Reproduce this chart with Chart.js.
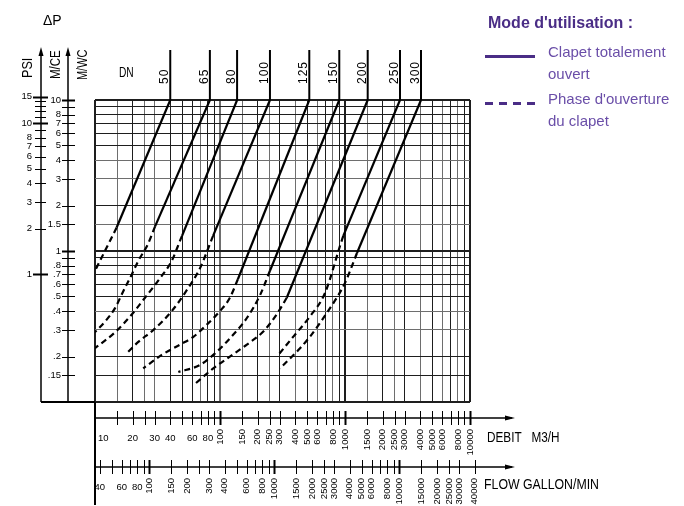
<!DOCTYPE html>
<html>
<head>
<meta charset="utf-8">
<script src="https://cdn.jsdelivr.net/npm/chart.js@4.4.0/dist/chart.umd.min.js"></script>
<style>
  html, body { margin: 0; padding: 0; background: #fff; overflow: hidden; }
  #wrap { position: relative; width: 684px; height: 506px; }
  #chart { position: absolute; left: 0; top: 0; }
  .lg { position: absolute; font-family: 'Liberation Sans', Arial, sans-serif; color: #6a4ea8; white-space: nowrap; }
  #lgTitle { left: 488px; top: 13px; font-size: 16px; font-weight: bold; color: #4a2d86; line-height: 20px; }
  #lgOpen { left: 548px; top: 41px; font-size: 15px; line-height: 22px; }
  #lgPhase { left: 548px; top: 88px; font-size: 15px; line-height: 22px; }
  .sample { position: absolute; left: 485px; width: 50px; height: 2.5px; }
  #smpOpen { top: 55px; background: #4a2d86; }
  #smpPhase { top: 102px; background: repeating-linear-gradient(to right, #4a2d86 0 8px, transparent 8px 14px); }
</style>
</head>
<body>
<div id="wrap">
  <canvas id="chart" width="684" height="506"></canvas>
  <div class="lg" id="lgTitle">Mode d'utilisation :</div>
  <div class="sample" id="smpOpen"></div>
  <div class="lg" id="lgOpen">Clapet totalement<br>ouvert</div>
  <div class="sample" id="smpPhase"></div>
  <div class="lg" id="lgPhase">Phase d'ouverture<br>du clapet</div>
</div>
<script>
// unit conversions for the secondary scales
const M_PER_PSI = 0.70307;     // 1 psi = 0.703 m CE
const GPM_PER_M3H = 3.6662;    // imperial gallon/min for 1 m3/h

const dnSizes = ['50', '65', '80', '100', '125', '150', '200', '250', '300'];

// Clapet totalement ouvert : [debit m3/h, perte de charge m CE]
const openDN50  = [[40, 10], [14.9, 1.43]];
const openDN65  = [[83, 10], [30.2, 1.45]];
const openDN80  = [[137, 10], [49.7, 1.26]];
const openDN100 = [[251, 10], [88, 1.26]];
const openDN125 = [[518, 10], [139, 0.65]];
const openDN150 = [[900, 10], [251, 0.74]];
const openDN200 = [[1519, 10], [342, 0.49]];
const openDN250 = [[2754, 10], [969, 1.26]];
const openDN300 = [[4055, 10], [1247, 0.97]];

// Phase d'ouverture du clapet
const phaseDN50  = [[14.9, 1.43], [13.2, 1.17], [10, 0.74]];
const phaseDN65  = [[30.2, 1.45], [26.5, 1.11], [22.2, 0.86], [19.7, 0.70], [16.8, 0.54], [14.5, 0.42], [12, 0.34], [10, 0.29]];
const phaseDN80  = [[49.7, 1.26], [47.9, 1.17], [41.1, 0.86], [33.1, 0.66], [25.1, 0.49], [19.7, 0.38], [14.5, 0.29], [10, 0.227]];
const phaseDN100 = [[88, 1.26], [69.2, 0.77], [55, 0.56], [41.1, 0.40], [29.3, 0.30], [22.2, 0.25], [17.9, 0.21]];
const phaseDN125 = [[139, 0.65], [120, 0.49], [100, 0.40], [78.3, 0.325], [61.2, 0.27], [47.9, 0.24], [34.2, 0.205], [24.3, 0.167]];
const phaseDN150 = [[251, 0.74], [209, 0.51], [164, 0.36], [120, 0.264], [94.1, 0.215], [69.2, 0.176], [46.4, 0.158]];
const phaseDN200 = [[342, 0.49], [284, 0.38], [222, 0.293], [164, 0.24], [120, 0.20], [88.4, 0.167], [61.2, 0.129]];
const phaseDN250 = [[969, 1.26], [912, 1.08], [692, 0.527], [525, 0.369], [386, 0.271], [293, 0.205]];
const phaseDN300 = [[1247, 0.97], [1000, 0.615], [714, 0.388], [525, 0.271], [437, 0.227], [302, 0.167]];

const openSeries  = [openDN50, openDN65, openDN80, openDN100, openDN125, openDN150, openDN200, openDN250, openDN300];
const phaseSeries = [phaseDN50, phaseDN65, phaseDN80, phaseDN100, phaseDN125, phaseDN150, phaseDN200, phaseDN250, phaseDN300];

// grid and ticks
const gridDebit = [10, 15, 20, 25, 30, 40, 50, 60, 70, 80, 90, 100, 150, 200, 250, 300, 400, 500, 600, 700, 800, 900,
                   1000, 1500, 2000, 2500, 3000, 4000, 5000, 6000, 7000, 8000, 9000, 10000];
const lightDebit = [15, 25, 30, 70, 100, 150, 250, 400, 600, 800, 1500, 2500, 4000, 6000, 8000];
const gridMCE = [0.1, 0.15, 0.2, 0.3, 0.4, 0.5, 0.6, 0.7, 0.8, 0.9, 1, 1.5, 2, 3, 4, 5, 6, 7, 8, 9, 10];
const lightMCE = [0.3, 0.4, 1.5, 3, 4];
const mceLabels = ['10', '8', '7', '6', '5', '4', '3', '2', '1.5', '1', '.8', '.7', '.6', '.5', '.4', '.3', '.2', '.15'];
const psiTicks = [15, 14, 13, 12, 11, 10, 9, 8, 7, 6, 5, 4, 3, 2, 1];
const psiLabels = ['15', '10', '8', '7', '6', '5', '4', '3', '2', '1'];
const debitLabels = ['10', '20', '30', '40', '60', '80', '100', '150', '200', '250', '300', '400', '500', '600', '800',
                     '1000', '1500', '2000', '2500', '3000', '4000', '5000', '6000', '8000', '10000'];
const gpmTicks = [40, 50, 60, 70, 80, 90, 100, 150, 200, 250, 300, 400, 500, 600, 700, 800, 900, 1000, 1500, 2000, 2500,
                  3000, 4000, 5000, 6000, 7000, 8000, 9000, 10000, 15000, 20000, 25000, 30000, 40000];
const gpmLabels = ['40', '60', '80', '100', '150', '200', '300', '400', '600', '800', '1000', '1500', '2000', '2500', '3000',
                   '4000', '5000', '6000', '8000', '10000', '15000', '20000', '25000', '30000', '40000'];

const FONT = "'Liberation Sans', Arial, sans-serif";

function drawLabel(ctx, text, x, y, size, sx, align, rot, baseline) {
    ctx.save();
    ctx.translate(x, y);
    if (rot) ctx.rotate(rot);
    ctx.scale(sx, 1);
    ctx.font = size + 'px ' + FONT;
    ctx.textAlign = align || 'left';
    ctx.textBaseline = baseline || 'alphabetic';
    ctx.fillText(text, 0, 0);
    ctx.restore();
}

function line(ctx, x1, y1, x2, y2, w) {
    ctx.lineWidth = w;
    ctx.beginPath();
    ctx.moveTo(x1, y1);
    ctx.lineTo(x2, y2);
    ctx.stroke();
}

function arrowUp(ctx, x, y) {
    ctx.beginPath();
    ctx.moveTo(x, y - 3);
    ctx.lineTo(x - 2.5, y + 6);
    ctx.lineTo(x + 2.5, y + 6);
    ctx.closePath();
    ctx.fill();
}

function arrowRight(ctx, x, y) {
    ctx.beginPath();
    ctx.moveTo(x + 3, y);
    ctx.lineTo(x - 7, y - 2.5);
    ctx.lineTo(x - 7, y + 2.5);
    ctx.closePath();
    ctx.fill();
}

function drawBottomAxis(ctx, scale, axisY, ticks, labels, bold, endX) {
    line(ctx, scale.left, axisY, endX, axisY, 1.5);
    arrowRight(ctx, endX, axisY);
    ticks.forEach(v => {
        const px = Math.round(scale.getPixelForValue(v)) + 0.5;
        line(ctx, px, axisY - 7, px, axisY + 7, bold.includes(v) ? 2 : 1);
    });
    labels.forEach(t => {
        const v = parseFloat(t);
        const px = scale.getPixelForValue(v);
        if (v < 100) {
            drawLabel(ctx, t, v === 10 ? px + 3 : px, axisY + 23, 9.5, 1, v === 10 ? 'left' : 'center');
        } else {
            drawLabel(ctx, t, px, axisY + 11, 9.5, 1, 'right', -Math.PI / 2, 'middle');
        }
    });
}

const decor = {
    id: 'decor',
    afterDraw(chart) {
        const { ctx, chartArea: a, scales } = chart;
        const x = scales.x, y = scales.y, xg = scales.xGpm, yp = scales.yPsi;
        const psiX = a.left - 54, ceX = a.left - 27, topY = a.top - 50;
        ctx.save();
        ctx.strokeStyle = '#000';
        ctx.fillStyle = '#000';

        // left frame and pressure axes
        line(ctx, psiX, topY + 2, psiX, a.bottom, 1.5);
        line(ctx, ceX, topY + 2, ceX, a.bottom, 1.5);
        arrowUp(ctx, psiX, topY);
        arrowUp(ctx, ceX, topY);
        line(ctx, psiX, a.bottom, a.left, a.bottom, 2);
        line(ctx, a.left, a.bottom, a.left, a.bottom + 103, 2);

        psiTicks.forEach(v => {
            const py = Math.round(yp.getPixelForValue(v)) + 0.5;
            const big = v === 15 || v === 10 || v === 1;
            line(ctx, psiX - (big ? 8 : 6), py, psiX + (big ? 7 : 5), py, big ? 2 : 1);
        });
        psiLabels.forEach(t => drawLabel(ctx, t, psiX - 9, yp.getPixelForValue(parseFloat(t)), 9.5, 1, 'right', 0, 'middle'));

        gridMCE.filter(v => v > 0.1).forEach(v => {
            const py = Math.round(y.getPixelForValue(v)) + 0.5;
            const big = v === 10 || v === 1;
            line(ctx, ceX - 6, py, ceX + 7, py, big ? 2 : 1);
        });
        mceLabels.forEach(t => drawLabel(ctx, t, ceX - 7, y.getPixelForValue(parseFloat(t)), 9.5, 1, 'right', 0, 'middle'));

        // headers
        drawLabel(ctx, '\u0394P', psiX + 2, 25, 14, 1, 'left');
        drawLabel(ctx, 'PSI', psiX - 9, topY + 28, 14, 0.9, 'left', -Math.PI / 2);
        drawLabel(ctx, 'M/CE', ceX - 8, topY + 29, 14, 0.82, 'left', -Math.PI / 2);
        drawLabel(ctx, 'M/WC', ceX + 19, topY + 30, 14, 0.78, 'left', -Math.PI / 2);
        drawLabel(ctx, 'DN', a.left + 24, a.top - 23, 15, 0.68, 'left');

        // DN stems and labels
        dnSizes.forEach((dn, i) => {
            const [q, p] = openSeries[i][0];
            const px = x.getPixelForValue(q);
            line(ctx, px, y.getPixelForValue(p), px, topY, 2);
            ctx.save();
            ctx.letterSpacing = '1px';
            drawLabel(ctx, dn, px - 2, a.top - 16, 12, 1, 'left', -Math.PI / 2);
            ctx.restore();
        });

        // flow axes
        const endX = a.right + 42;
        drawBottomAxis(ctx, x, a.bottom + 16, gridDebit.slice(1), debitLabels, [100, 1000, 10000], endX);
        drawBottomAxis(ctx, xg, a.bottom + 65, gpmTicks, gpmLabels, [100, 1000, 10000], endX);
        drawLabel(ctx, 'DEBIT   M3/H', a.right + 17, a.bottom + 40, 14, 0.84, 'left');
        drawLabel(ctx, 'FLOW GALLON/MIN', a.right + 14, a.bottom + 87, 14, 0.88, 'left');
        ctx.restore();
    }
};

const datasets = [];
dnSizes.forEach((dn, i) => {
    datasets.push({
        label: 'DN ' + dn + ' - clapet totalement ouvert',
        data: openSeries[i].map(([q, p]) => ({ x: q, y: p })),
        borderColor: '#000',
        borderWidth: 2.2,
        showLine: true,
        pointRadius: 0,
        tension: 0
    });
    datasets.push({
        label: 'DN ' + dn + " - phase d'ouverture",
        data: phaseSeries[i].map(([q, p]) => ({ x: q, y: p })),
        borderColor: '#000',
        borderWidth: 2.2,
        borderDash: [6, 4],
        showLine: true,
        pointRadius: 0,
        cubicInterpolationMode: 'monotone'
    });
});

function gridScale(values, bold, light) {
    return {
        type: 'logarithmic',
        min: values[0],
        max: values[values.length - 1],
        afterBuildTicks: s => { s.ticks = values.map(v => ({ value: v })); },
        ticks: { display: false },
        border: { display: false },
        grid: {
            drawTicks: false,
            color: c => (c.tick && light.includes(c.tick.value)) ? '#6e6e6e' : '#1e1e1e',
            lineWidth: c => (c.tick && bold.includes(c.tick.value)) ? 2 : 1
        }
    };
}

new Chart(document.getElementById('chart'), {
    type: 'scatter',
    data: { datasets },
    options: {
        responsive: false,
        animation: false,
        devicePixelRatio: 1,
        layout: { padding: { left: 95, top: 100, right: 214, bottom: 104 } },
        plugins: { legend: { display: false }, tooltip: { enabled: false } },
        scales: {
            x: gridScale(gridDebit, [10, 100, 1000, 10000], lightDebit),
            y: gridScale(gridMCE, [0.1, 1, 10], lightMCE),
            xGpm: { type: 'logarithmic', axis: 'x', position: 'bottom', display: false,
                    min: gridDebit[0] * GPM_PER_M3H, max: gridDebit[gridDebit.length - 1] * GPM_PER_M3H },
            yPsi: { type: 'logarithmic', axis: 'y', position: 'left', display: false,
                    min: gridMCE[0] / M_PER_PSI, max: gridMCE[gridMCE.length - 1] / M_PER_PSI }
        }
    },
    plugins: [decor]
});
</script>
</body>
</html>
